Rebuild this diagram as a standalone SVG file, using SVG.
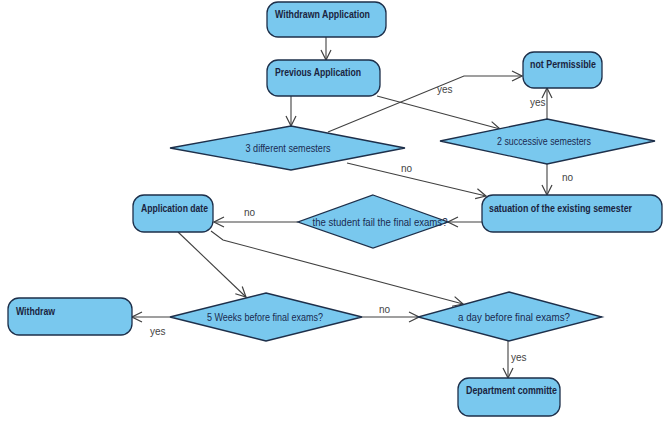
<svg xmlns="http://www.w3.org/2000/svg" width="668" height="436" viewBox="0 0 668 436">
<defs>
<marker id="arr" markerWidth="12" markerHeight="12" refX="11" refY="6" orient="auto" markerUnits="userSpaceOnUse">
<path d="M1,1 L11,6 L1,11" fill="none" stroke="#404040" stroke-width="1.2"/>
</marker>
<style>
.node{fill:#79C8EE;stroke:#1d2f4a;stroke-width:1.3}
.nt{font-family:"Liberation Sans",Arial,sans-serif;font-size:10.5px;font-weight:bold;fill:#1a2440}
.dt{font-family:"Liberation Sans",Arial,sans-serif;font-size:10.5px;fill:#1a2a50;text-anchor:middle}
.lbl{font-family:"Liberation Sans",Arial,sans-serif;font-size:10px;fill:#444}
.c{fill:none;stroke:#404040;stroke-width:1.1;marker-end:url(#arr)}
</style>
</defs>
<rect width="668" height="436" fill="#fff"/>
<g id="connectors">
<path class="c" d="M326,37 L326,60"/>
<path class="c" d="M291,96 L291,126"/>
<path class="c" d="M328,132 L464,76 L522,76"/>
<path class="c" d="M377,96 L500,129"/>
<path class="c" d="M547,119 L547,88"/>
<path class="c" d="M547,164 L547,195"/>
<path class="c" d="M347,163 L486,196"/>
<path class="c" d="M482,222 L448,222"/>
<path class="c" d="M298,222 L214,222"/>
<path class="c" d="M178,232 L246,297"/>
<path class="c" d="M211,231 L223,240 L463,304"/>
<path class="c" d="M170,317 L132,317"/>
<path class="c" d="M362,317 L419,317"/>
<path class="c" d="M508,341 L508,378"/>
<text class="lbl" x="437" y="93">yes</text>
<text class="lbl" x="530" y="106">yes</text>
<text class="lbl" x="562" y="181">no</text>
<text class="lbl" x="401" y="172">no</text>
<text class="lbl" x="244" y="216">no</text>
<text class="lbl" x="150" y="335">yes</text>
<text class="lbl" x="379" y="313">no</text>
<text class="lbl" x="511" y="361">yes</text>
</g>
<g id="withdrawn-application">
<rect class="node" x="267" y="2" width="119" height="35" rx="11"/>
<text class="nt" x="275" y="18" textLength="95" lengthAdjust="spacingAndGlyphs">Withdrawn Application</text>
</g>
<g id="previous-application">
<rect class="node" x="267" y="60" width="113" height="36" rx="11"/>
<text class="nt" x="275" y="76" textLength="86" lengthAdjust="spacingAndGlyphs">Previous Application</text>
</g>
<g id="three-different-semesters">
<polygon class="node" points="291,126 405,148 291,170 170,148"/>
<text class="dt" x="288" y="152" textLength="85" lengthAdjust="spacingAndGlyphs">3 different semesters</text>
</g>
<g id="not-permissible">
<rect class="node" x="523" y="52" width="79" height="36" rx="11"/>
<text class="nt" x="530" y="68" textLength="66" lengthAdjust="spacingAndGlyphs">not Permissible</text>
</g>
<g id="two-successive-semesters">
<polygon class="node" points="547,119 655,141 547,164 440,141"/>
<text class="dt" x="544" y="145" textLength="94" lengthAdjust="spacingAndGlyphs">2 successive semesters</text>
</g>
<g id="satuation">
<rect class="node" x="482" y="195" width="180" height="37" rx="11"/>
<text class="nt" x="489" y="212" textLength="143" lengthAdjust="spacingAndGlyphs">satuation of the existing semester</text>
</g>
<g id="student-fail">
<polygon class="node" points="373,195 448,222 373,248 298,222"/>
<text class="dt" x="380" y="226" textLength="135" lengthAdjust="spacingAndGlyphs">the student fail the final exams?</text>
</g>
<g id="application-date">
<rect class="node" x="133" y="195" width="80" height="37" rx="11"/>
<text class="nt" x="141" y="212" textLength="67" lengthAdjust="spacingAndGlyphs">Application date</text>
</g>
<g id="withdraw">
<rect class="node" x="8" y="298" width="124" height="37" rx="11"/>
<text class="nt" x="16" y="315" textLength="39" lengthAdjust="spacingAndGlyphs">Withdraw</text>
</g>
<g id="five-weeks">
<polygon class="node" points="266,293 362,317 266,341 170,317"/>
<text class="dt" x="265" y="321" textLength="116" lengthAdjust="spacingAndGlyphs">5 Weeks before final exams?</text>
</g>
<g id="day-before">
<polygon class="node" points="509,292 602,317 509,341 418,317"/>
<text class="dt" x="514" y="321" textLength="112" lengthAdjust="spacingAndGlyphs">a day before final exams?</text>
</g>
<g id="department-committe">
<rect class="node" x="458" y="378" width="102" height="38" rx="11"/>
<text class="nt" x="466" y="394" textLength="91" lengthAdjust="spacingAndGlyphs">Department committe</text>
</g>
</svg>
